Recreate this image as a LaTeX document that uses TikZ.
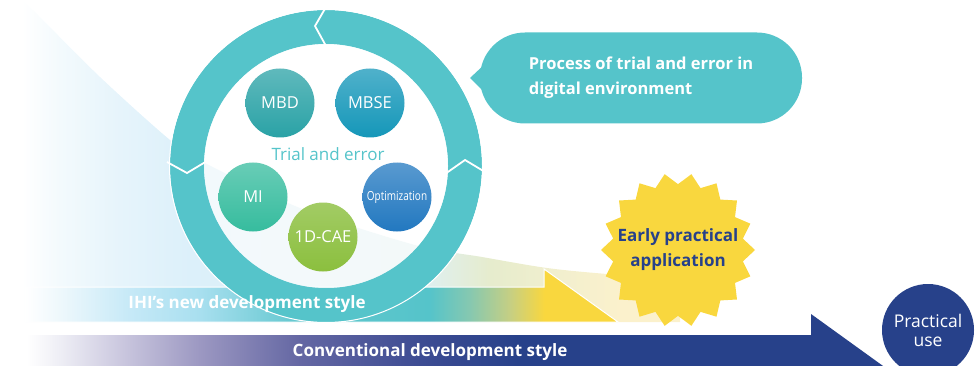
\documentclass[tikz,border=0pt]{standalone}
\usepackage{fontspec}
\setmainfont{Open Sans}
\usepackage{graphicx}
\usepackage{xcolor}
\usepackage{tikz}
\usetikzlibrary{shapes.geometric}

\definecolor{ringteal}{HTML}{55C4CA}
\definecolor{navy}{HTML}{27418A}
\definecolor{sunyellow}{HTML}{F9D73E}
\definecolor{mbd}{HTML}{2AA2A6}
\definecolor{mbse}{HTML}{1597B9}
\definecolor{mi}{HTML}{36BC9E}
\definecolor{cae}{HTML}{8BBF3E}
\definecolor{optim}{HTML}{2278C0}

% colours of the fades
\definecolor{cfA}{HTML}{F3FAFD}
\definecolor{cfB}{HTML}{E6F4FB}
\definecolor{cfC}{HTML}{DCF0FA}
\definecolor{cfD}{HTML}{DFEFEE}
\definecolor{cfE}{HTML}{E6ECCD}
\definecolor{cfF}{HTML}{F2EFCE}
\definecolor{cfG}{HTML}{FBF1CC}
\definecolor{nsA}{HTML}{EEF8FC}
\definecolor{nsB}{HTML}{C6E9F7}
\definecolor{nsC}{HTML}{A8DFEF}
\definecolor{nsD}{HTML}{62C7CE}
\definecolor{nsE}{HTML}{86C8B0}
\definecolor{nsF}{HTML}{C6CF83}
\definecolor{osA}{HTML}{EEEEF5}
\definecolor{osB}{HTML}{CBC8DF}
\definecolor{osC}{HTML}{9C98C2}
\definecolor{osD}{HTML}{6467A3}
\definecolor{osE}{HTML}{3D4C93}

\pgfdeclarehorizontalshading{curvefade}{100bp}{color(0bp)=(white); color(25bp)=(white);
  color(27.9bp)=(cfA); color(32.4bp)=(cfB); color(37.8bp)=(cfC); color(56bp)=(cfD);
  color(60.6bp)=(cfE); color(65.9bp)=(cfF); color(70.4bp)=(cfG); color(100bp)=(cfG)}
\pgfdeclarehorizontalshading{newstyle}{100bp}{color(0bp)=(white); color(25bp)=(white);
  color(27.95bp)=(nsA); color(33.85bp)=(nsB); color(39.75bp)=(nsC); color(48.2bp)=(nsD);
  color(59.1bp)=(ringteal); color(62.5bp)=(nsE); color(65.9bp)=(nsF);
  color(68.8bp)=(sunyellow); color(100bp)=(sunyellow)}
\pgfdeclarehorizontalshading{oldstyle}{100bp}{color(0bp)=(white); color(25bp)=(white);
  color(26.9bp)=(osA); color(30.4bp)=(osB); color(35bp)=(osC); color(40.8bp)=(osD);
  color(47.8bp)=(osE); color(53.5bp)=(navy); color(100bp)=(navy)}

\begin{document}
\begin{tikzpicture}[x=1pt,y=-1pt,
	tool/.style={circle,minimum size=69pt,inner sep=0pt,text=white,shading angle=30,
		font=\fontsize{16.5}{16.5}\selectfont},
	bartext/.style={text=white,font=\bfseries\fontsize{17}{17}\selectfont},
	gap/.style={white,line width=1.8pt}]
	\clip (0,0) rectangle (976,366);
	
	% trial and error curve
	\path[shading=curvefade] (22,0) -- plot[smooth] coordinates {(22,0) (33,10) (100,77) (170,140) (205,163) (300,208) (415,245) (482,257) (547,268) (607,274) (680,279)} -- (680,322) -- (22,322) -- cycle;
	
	% new development style
	\path[shading=newstyle,draw=white,line width=1pt] (25,287) -- (544,287) -- (544,269) -- (618,322) -- (25,322) -- cycle;
	
	% ring of arrows
	\coordinate (hub) at (326,166);
	\fill[ringteal,even odd rule] (hub) circle (156pt) (hub) circle (122pt);
	\draw[white,line width=1pt] (hub) circle (156.5pt);
	\fill[white,opacity=0.65] (hub) circle (122pt);
	\draw[gap] (326,7) -- (315,26) -- (326,46);
	\draw[gap] (167,162) -- (187,173) -- (207,161);
	\draw[gap] (445,174) -- (465,160) -- (485,172);
	
	\node[tool,top color=mbd!75!white,bottom color=mbd] (mbd) at (280,103) {MBD};
	\node[tool,top color=mbse!75!white,bottom color=mbse] (mbse) at (370,103) {MBSE};
	\node[tool,top color=mi!75!white,bottom color=mi] (mi) at (253,197) {MI};
	\node[tool,top color=cae!80!white,bottom color=cae] (cae) at (323,237) {1D-CAE};
	\node[tool,top color=optim!75!white,bottom color=optim] (optim) at (397,197) {\fontsize{12.5}{12.5}\selectfont\scalebox{0.8}[1]{Optimization}};
	\node[text=ringteal,font=\fontsize{17}{17}\selectfont] (trial) at (328,154) {Trial and error};
	
	\node[bartext] (newlabel) at (247,304) {IHI’s new development style};
	
	% speech bubble
	\fill[ringteal] (470,78) -- (486,63) -- (486,94) -- cycle;
	\node[fill=ringteal,rounded corners=45pt,minimum width=322pt,minimum height=91pt,
		text=white,align=left,font=\bfseries\fontsize{16.5}{25}\selectfont] (bubble) at (641,78)
		{Process of trial and error in\\digital environment};
	
	% early application
	\node[star,star points=18,star point ratio=1.17,shape border rotate=10,fill=sunyellow,
		minimum size=154pt,inner sep=0pt] (early) at (678,250) {};
	\node[text=navy,align=center,font=\bfseries\fontsize{17}{25}\selectfont] (earlytext) at (early) {Early practical\\application};
	
	% conventional development style
	\path[shading=oldstyle] (27,335) -- (811,335) -- (811,314) -- (890,371) -- (27,371) -- cycle;
	\node[bartext] (oldlabel) at (430,352) {Conventional development style};
	
	\node[circle,fill=navy,minimum size=92pt,inner sep=0pt,text=white,align=center,
		font=\fontsize{17.5}{19}\selectfont] (practical) at (928,330) {Practical\\use};
\end{tikzpicture}
\end{document}
